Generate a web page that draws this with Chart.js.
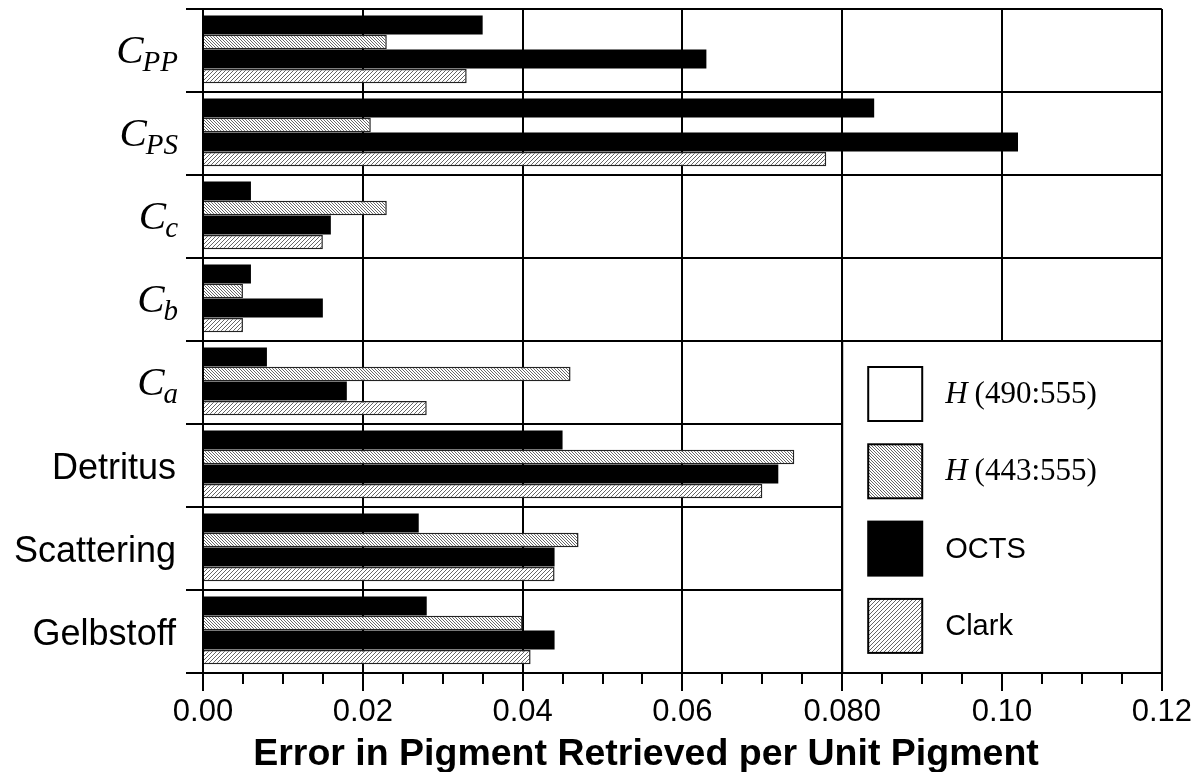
<!DOCTYPE html>
<html><head><meta charset="utf-8">
<script src="https://cdn.jsdelivr.net/npm/chart.js@4.4.0/dist/chart.umd.min.js"></script>
<style>html,body{margin:0;padding:0;background:#fff;}#wrap{width:1195px;height:772px;}</style>
</head><body><div id="wrap"><canvas id="c" width="1195" height="772"></canvas></div>
<script>
const categories = ['C_PP','C_PS','C_c','C_b','C_a','Detritus','Scattering','Gelbstoff'];
const seriesNames = ['H(490:555)','H(443:555)','OCTS','Clark'];
const h490 = [0.035,0.084,0.006,0.006,0.008,0.045,0.027,0.028];
const h443 = [0.023,0.021,0.023,0.005,0.046,0.074,0.047,0.040];
const octs = [0.063,0.102,0.016,0.015,0.018,0.072,0.044,0.044];
const clark = [0.033,0.078,0.015,0.005,0.028,0.070,0.044,0.041];
const xTickLabels = ['0.00','0.02','0.04','0.06','0.080','0.10','0.12'];
const xTitle = 'Error in Pigment Retrieved per Unit Pigment';

function hatch(dir, s, color, lw){
  const c=document.createElement('canvas'); c.width=s; c.height=s;
  const g=c.getContext('2d'); g.fillStyle='#fff'; g.fillRect(0,0,s,s);
  g.strokeStyle=color; g.lineWidth=lw; g.beginPath();
  if(dir==='/'){ g.moveTo(-1,s+1); g.lineTo(s+1,-1); g.moveTo(-1,1); g.lineTo(1,-1); g.moveTo(s-1,s+1); g.lineTo(s+1,s-1); }
  else { g.moveTo(-1,-1); g.lineTo(s+1,s+1); g.moveTo(-1,s-1); g.lineTo(1,s+1); g.moveTo(s-1,-1); g.lineTo(s+1,1); }
  g.stroke();
  return g.createPattern(c,'repeat');
}
const ctx0=document.getElementById('c').getContext('2d');
const patBack = hatch('\\',3,'#666',1);
const patFwd = hatch('/',4,'#666',1);
const barFills = ['#000', patBack, '#000', patFwd];
const legendFills = ['#fff', patBack, '#000', patFwd];
const barThick = [1.12, 0.84, 1.12, 0.84];
const seriesData = [h490,h443,octs,clark];

const extras = {
  id:'extras',
  afterDatasetsDraw(chart){
    const c=chart.ctx, xs=chart.scales.x, ys=chart.scales.y, ca=chart.chartArea;
    const x0=xs.getPixelForValue(0.08), y0=(ys.getPixelForValue(3)+ys.getPixelForValue(4))/2;
    c.save();
    c.fillStyle='#fff'; c.fillRect(x0,y0,ca.right-x0,ca.bottom-y0);
    c.strokeStyle='#000'; c.lineWidth=2; c.strokeRect(x0,y0,ca.right-x0,ca.bottom-y0);
    const step=77.3;
    chart.data.datasets.forEach((ds,i)=>{
      const bx=x0+26, by=y0+26+i*step;
      c.fillStyle=legendFills[i]; c.fillRect(bx,by,54,54);
      c.strokeStyle='#000'; c.lineWidth=2; c.strokeRect(bx,by,54,54);
      const ty=by+27, tx=x0+103;
      c.fillStyle='#000'; c.textBaseline='middle'; c.textAlign='left';
      const lab=ds.label;
      if(/^H\(/.test(lab)){
        c.font='italic 31px "Liberation Serif"'; c.fillText('H',tx,ty+1);
        const w=c.measureText('H').width;
        c.font='31px "Liberation Serif"'; c.fillText(lab.slice(1),tx+w+7,ty+1);
      } else {
        c.font='29px "Liberation Sans"'; c.fillText(lab,tx,ty+1);
      }
    });
    c.restore();
  },
  afterDraw(chart){
    const c=chart.ctx, xs=chart.scales.x, ys=chart.scales.y, ca=chart.chartArea;
    c.save();
    c.strokeStyle='#000'; c.lineWidth=2;
    for(let k=1;k<24;k++){ if(k%4===0) continue;
      const x=Math.round(xs.getPixelForValue(k*0.005));
      c.beginPath(); c.moveTo(x,ca.bottom); c.lineTo(x,ca.bottom+11); c.stroke(); }
    c.fillStyle='#000'; c.textBaseline='alphabetic';
    chart.data.labels.forEach((lab,i)=>{
      const y=ys.getPixelForValue(i);
      if(lab.includes('_')){
        const [m,s]=lab.split('_');
        c.font='italic 29px "Liberation Serif"'; const ws=c.measureText(s).width;
        c.textAlign='right'; c.fillText(s,178,y+20);
        c.font='italic 41px "Liberation Serif"'; c.fillText(m,178-ws+1,y+12);
      } else {
        c.font='36px "Liberation Sans"'; c.textAlign='right'; c.fillText(lab,176,y+13);
      }
    });
    c.font='bold 37.5px "Liberation Sans"'; c.textAlign='center'; c.textBaseline='alphabetic';
    c.fillText(xTitle,646,765);
    c.restore();
  }
};

new Chart(ctx0,{
  type:'bar',
  data:{ labels:categories,
    datasets: seriesNames.map((n,i)=>({label:n,data:seriesData[i],backgroundColor:barFills[i],
      borderColor:'#222',borderWidth:i%2===1?1.5:0,categoryPercentage:0.82,barPercentage:barThick[i]})) },
  options:{
    indexAxis:'y', responsive:false, animation:false, devicePixelRatio:1,
    layout:{padding:{top:9,right:32,left:0,bottom:0}},
    plugins:{legend:{display:false},tooltip:{enabled:false}},
    scales:{
      x:{ type:'linear', min:0, max:0.12,
        afterFit(s){ s.height=99; },
        ticks:{ stepSize:0.02, callback:(v,i)=>xTickLabels[i], color:'#000', font:{family:'Liberation Sans',size:31}, padding:3, maxRotation:0 },
        grid:{ color:'#000', lineWidth:2, drawTicks:true, tickLength:18, tickColor:'#000' },
        border:{ display:true, color:'#000', width:2 } },
      y:{ type:'category', offset:true,
        afterFit(s){ s.width=203; },
        ticks:{ display:false },
        grid:{ color:'#000', lineWidth:2, offset:true, drawTicks:true, tickLength:17, tickColor:'#000' },
        border:{ display:true, color:'#000', width:2 } }
    }
  },
  plugins:[extras]
});
</script></body></html>
